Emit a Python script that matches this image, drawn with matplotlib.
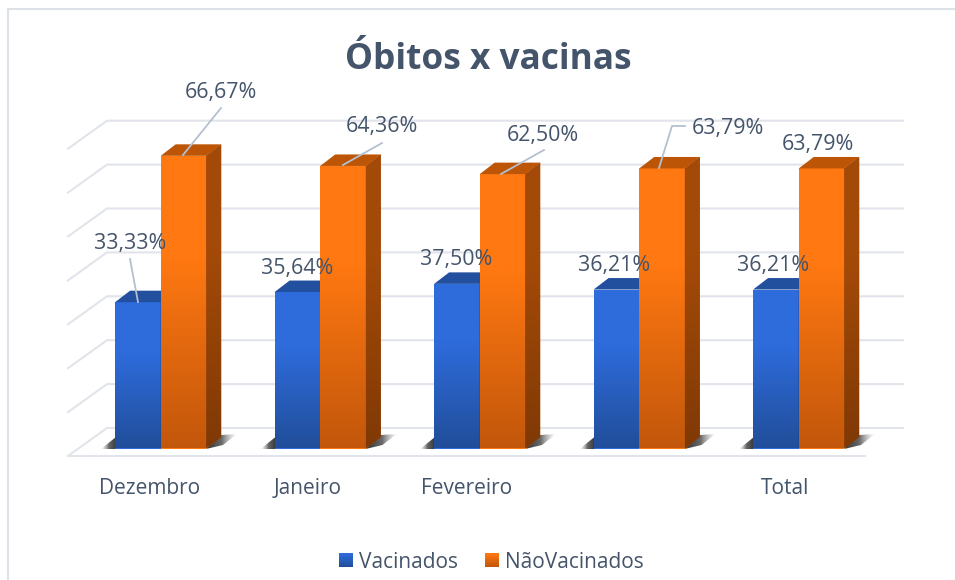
import numpy as np
import matplotlib
matplotlib.use("Agg")
import matplotlib.pyplot as plt
from matplotlib.colors import LinearSegmentedColormap, to_rgb
from matplotlib.legend_handler import HandlerBase
from matplotlib.lines import Line2D
from matplotlib.patches import Patch, Polygon, Rectangle

plt.rcParams["font.family"] = ["Open Sans", "DejaVu Sans"]

categorias = ["Dezembro", "Janeiro", "Fevereiro", "", "Total"]
vacinados = [33.33, 35.64, 37.50, 36.21, 36.21]
nao_vacinados = [66.67, 64.36, 62.50, 63.79, 63.79]
series = ["Vacinados", "NãoVacinados"]
graduacoes = [0, 10, 20, 30, 40, 50, 60, 70]

W, H = 955, 580
PX_X = 159.5        # pixels par categorie
PX_Y = 4.39         # pixels par %
X0, Y0 = 160.7, 448.5 # pixel de (0, 0)
LARG = 45.6 / PX_X
PROF_X = 15 / PX_X
PROF_Y = 11.5 / PX_Y
TEXTE = "#44546A"
GRILLE = "#E1E4EB"
TRAIT = "#B4C0D0"

BLEU = ("#2E6CDC", "#214E9A", "#224F9E", "#1B3F7E")
ORANGE = ("#FF7811", "#C2570B", "#BC5606", "#A34A08", "#803905")


def px(xp, yp):
    # position en pixels vers coordonnees du graphique
    return (xp - X0) / PX_X, (Y0 - yp) / PX_Y


def degrade(ax, clip, bbox, c1, c2, z, plat=0.0):
    # degrade vertical, c1 garde sur la fraction plat du haut
    cm = LinearSegmentedColormap.from_list("d", [(0, c1), (max(plat, 0.001), c1), (1, c2)])
    ramp = np.linspace(0, 1, 128).reshape(-1, 1)
    im = ax.imshow(ramp, cmap=cm, extent=bbox, origin="upper", aspect="auto",
                   zorder=z, interpolation="bilinear")
    im.set_clip_path(clip)


def ombre(ax, x, z):
    # ombre portee sur le sol, a droite et a gauche du groupe
    noir = LinearSegmentedColormap.from_list(
        "o", [(0, (0.2, 0.2, 0.2, 1.0)), (0.5, (0.3, 0.3, 0.3, 0.85)),
              (1, (0.6, 0.6, 0.6, 0.0))])
    p = [px(206, 449), px(221, 435), px(237, 434), px(223, 445)]
    d = Polygon([(x + a, b) for a, b in p], closed=True,
                transform=ax.transData, fc="none", ec="none")
    ax.add_patch(d)
    im = ax.imshow(np.linspace(0, 1, 64).reshape(1, -1), cmap=noir,
                   extent=(x + p[0][0], x + p[2][0], p[0][1], p[2][1]),
                   aspect="auto", zorder=z)
    im.set_clip_path(d)

    p = [px(116, 449), px(101, 449), px(116, 437)]
    g = Polygon([(x + a, b) for a, b in p], closed=True,
                transform=ax.transData, fc="none", ec="none")
    ax.add_patch(g)
    im = ax.imshow(np.linspace(1, 0, 64).reshape(1, -1), cmap=noir,
                   extent=(x + p[1][0], x + p[0][0], p[0][1], p[2][1]),
                   aspect="auto", zorder=z)
    im.set_clip_path(g)


def barres(ax, xs, vals, couleurs, z):
    cf1, cf2, ct = couleurs[:3]
    cs1 = couleurs[3]
    cs2 = couleurs[4] if len(couleurs) > 4 else couleurs[3]
    rects = ax.bar(xs, vals, width=LARG, align="edge", color=cf1, lw=0, zorder=z)
    for r, x, v in zip(rects, xs, vals):
        degrade(ax, r, (x, x + LARG, 0, v), cf1, cf2, z + 0.1, plat=0.35)
        ax.add_patch(Polygon([(x, v), (x + LARG, v),
                              (x + LARG + PROF_X, v + PROF_Y), (x + PROF_X, v + PROF_Y)],
                             closed=True, fc=ct, ec="none", zorder=z + 0.2))
        cote = Polygon([(x + LARG, 0), (x + LARG + PROF_X, PROF_Y),
                        (x + LARG + PROF_X, v + PROF_Y), (x + LARG, v)],
                       closed=True, fc=cs1, ec="none", zorder=z + 0.1)
        ax.add_patch(cote)
        degrade(ax, cote, (x + LARG, x + LARG + PROF_X, 0, v + PROF_Y), cs1, cs2, z + 0.2, plat=0.35)


class CarreDegrade(HandlerBase):
    # carre de legende avec le meme degrade que les barres
    def __init__(self, c1, c2):
        super().__init__()
        self.c1, self.c2 = np.array(to_rgb(c1)), np.array(to_rgb(c2))

    def create_artists(self, legend, orig, xd, yd, w, h, fs, trans):
        n = 14
        arts = []
        for i in range(n):
            c = self.c1 + (self.c2 - self.c1) * i / (n - 1)
            arts.append(Rectangle((-xd, -yd + h * (n - 1 - i) / n), w, h / n + 0.2,
                                  fc=c, ec="none", transform=trans))
        return arts


fig = plt.figure(figsize=(W / 100, H / 100), dpi=100)
ax = fig.add_axes([0, 0, 1, 1])
ax.axis("off")

# cadre du graphique
fig.add_artist(Line2D([8 / W, 8 / W, 1], [0, 1 - 9 / H, 1 - 9 / H], color="#DDE1E8", lw=1.5))

# grille : mur du fond et cote gauche
x_av, _ = px(68, 0)
x_ar, _ = px(107, 0)
x_fin, _ = px(903, 0)
x_fin_sol, _ = px(865, 0)
_, dy_ar = px(0, 428)
_, dy_av = px(0, 456)
for v in graduacoes:
    ax.plot([x_av, x_ar, x_fin], [v + dy_av, v + dy_ar, v + dy_ar],
            color=GRILLE, lw=1.5, zorder=1, solid_joinstyle="miter")
ax.plot([x_av, x_fin_sol], [dy_av, dy_av], color=GRILLE, lw=1.5, zorder=1)

x_g = np.arange(len(categorias))
for x in x_g:
    ombre(ax, x, 2)
barres(ax, x_g - LARG, vacinados, BLEU, 3)
barres(ax, x_g, nao_vacinados, ORANGE, 4)

# etiquettes, en pixels de l'image
etiq_bleu = [(130, 244), (297, 268), (456, 260), (614, 265), (773, 265)]
etiq_orange = [(221, 92), (382, 126), (543, 135), (728, 128), (818, 144)]
for vals, pos in ((vacinados, etiq_bleu), (nao_vacinados, etiq_orange)):
    for v, (xp, yp) in zip(vals, pos):
        xt, yt = px(xp, yp)
        ax.text(xt, yt, ("%.2f%%" % v).replace(".", ","), color=TEXTE, fontsize=15.4,
                ha="center", va="center", zorder=9)

# traits de rappel
traits = [
    [(138, 302), (130, 259)],
    [(183, 155), (221, 108)],
    [(343, 165), (382, 143)],
    [(501, 174), (544, 150)],
    [(659, 168), (672, 126), (685, 126)],
]
for t in traits:
    pts = [px(*p) for p in t]
    ax.plot([p[0] for p in pts], [p[1] for p in pts], color=TRAIT, lw=1.3, zorder=8)

# axe des categories
_, y_cat = px(0, 489)
decal_cat = [-11, -13, -13, 0, -14]
for x, c, d in zip(x_g, categorias, decal_cat):
    ax.text(x + d / PX_X, y_cat, c, color=TEXTE, fontsize=15, ha="center", va="center")

xt, yt = px(488, 60)
ax.text(xt, yt, "Óbitos x vacinas", color=TEXTE, fontsize=25.4, fontweight="bold",
        ha="center", va="center")

h1 = Patch(label=series[0])
h2 = Patch(label=series[1])
ax.legend(handles=[h1, h2], loc="center", bbox_to_anchor=(491.5 / W, 1 - 562 / H),
          ncol=2, frameon=False, fontsize=15, labelcolor=TEXTE,
          handlelength=0.67, handleheight=0.67, handletextpad=0.29, columnspacing=1.3,
          borderpad=0, borderaxespad=0,
          handler_map={h1: CarreDegrade(BLEU[0], BLEU[1]), h2: CarreDegrade(ORANGE[0], ORANGE[1])})

ax.set_xlim(-X0 / PX_X, (W - X0) / PX_X)
ax.set_ylim((Y0 - H) / PX_Y, Y0 / PX_Y)

fig.savefig("out.png", dpi=100)
